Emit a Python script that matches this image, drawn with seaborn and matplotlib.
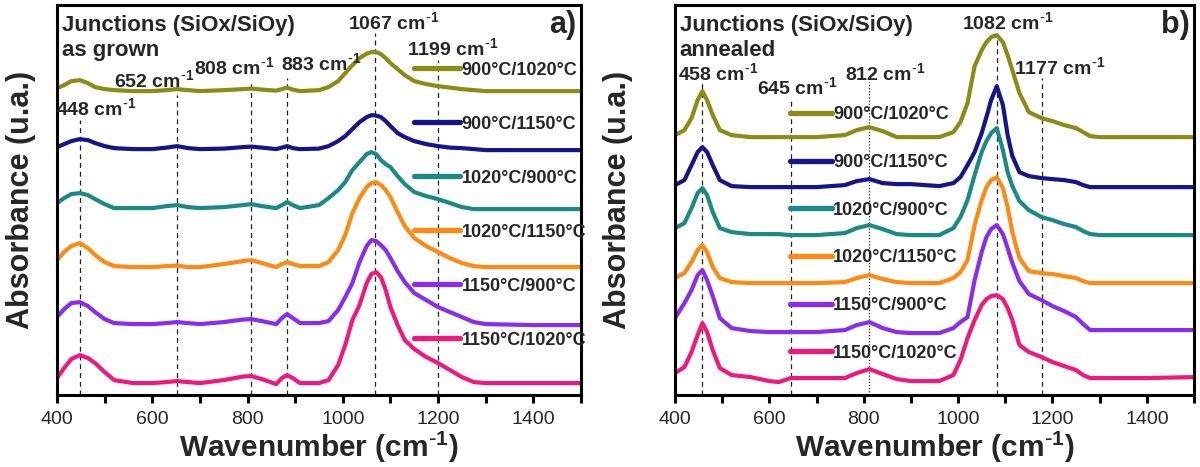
import numpy as np
import pandas as pd
import matplotlib
matplotlib.use('Agg')
import matplotlib.pyplot as plt
from matplotlib.lines import Line2D
import seaborn as sns

# sample labels / colours (same for both panels)
LABELS = ['900°C/1020°C', '900°C/1150°C', '1020°C/900°C',
          '1020°C/1150°C', '1150°C/900°C', '1150°C/1020°C']
COLORS = ['#8C8C14', '#14148C', '#1A8A86', '#FF8A12', '#8A2BF0', '#F0187E']

# a) as grown -- stacked absorbance (a.u.)
WN_A = [400, 415, 430, 448, 465, 480, 500, 520, 560, 600, 630, 652, 675, 700, 750,
        790, 808, 830, 860, 872, 883, 895, 910, 950, 970, 990, 1005, 1020, 1035, 1050,
        1060, 1070, 1080, 1090, 1100, 1115, 1130, 1150, 1175, 1200, 1225, 1250, 1275,
        1300, 1400, 1500]
A_900_1020 = [307, 310, 314, 315, 312, 308, 306, 305, 304, 304, 305, 306, 305, 304, 305,
              306, 306.5, 305.5, 304.5, 306, 307.5, 305.5, 304, 305, 308, 314, 322, 330, 337, 341.5,
              343, 343, 341, 337, 332, 326, 320, 314, 311, 309, 307.5, 306, 305,
              304, 304, 304]
A_900_1150 = [248, 251, 254, 256, 255, 252, 249, 247, 246, 246, 247.5, 249, 247, 246, 246.5,
              248, 248.5, 247.5, 246, 247.5, 249, 247, 246, 246.5, 249, 254, 259, 266, 273, 278,
              280, 279.5, 278, 274, 269, 262, 258, 254, 251, 249, 247.5, 247, 246,
              245, 245, 245]
A_1020_900 = [192, 197, 201, 202, 200, 196, 191, 187, 187, 187, 189, 190, 188, 187, 188,
              190, 191, 189, 187, 190, 193, 190, 187, 190, 197, 205, 213, 225, 233, 241,
              243, 241, 235, 231, 228, 219, 211, 203, 199, 196, 192, 188, 186,
              186, 186, 186]
A_1020_1150 = [135, 143, 149, 152, 147, 140, 133, 129, 128, 128, 129, 129.5, 128, 128, 131,
               134, 135, 132, 128, 131, 133, 131, 129, 129, 133, 145, 160, 182, 197, 208,
               212, 213, 210, 205, 198, 183, 169, 157, 149, 143, 137, 132, 129,
               128, 128, 128]
A_1150_900 = [78, 86, 92, 93, 89, 83, 76, 72, 71, 71, 72, 73, 72, 71, 73,
              75.5, 76, 74, 71, 77, 81, 77, 72, 72, 74, 85, 98, 112, 133, 149,
              155, 154, 150, 145, 137, 124, 113, 102, 95, 88, 83, 78, 73,
              71, 70, 70]
A_1150_1020 = [17, 27, 36, 40, 37, 32, 23, 15, 12, 12, 13, 14, 13, 12, 15,
               18.5, 19, 16, 11, 17, 20, 17, 12, 12, 15, 30, 50, 75, 90, 112,
               121, 123, 118, 105, 88, 70, 55, 46, 38, 32, 25, 18, 13,
               12, 12, 12]

# b) annealed
WN_B = [400, 420, 435, 448, 458, 468, 480, 495, 520, 560, 600, 620, 645, 700, 760,
        785, 812, 840, 870, 900, 960, 990, 1005, 1020, 1035, 1050, 1060, 1070, 1082, 1095,
        1105, 1115, 1130, 1150, 1177, 1200, 1225, 1250, 1265, 1280, 1300, 1400, 1500]
B_900_1020 = [260, 265, 277, 295, 304, 295, 280, 265, 260, 258, 258, 258, 258, 258, 260,
              265, 268, 264, 258, 258, 258, 263, 273, 292, 329, 345, 353, 358, 360, 353,
              340, 325, 302, 283, 277, 274, 270, 267, 263, 259, 258, 258, 258]
B_900_1150 = [210, 215, 230, 243, 248, 243, 230, 215, 209, 208, 208, 208, 208, 208, 210,
              214, 216, 212, 211, 211, 209, 212, 218, 230, 243, 262, 278, 295, 309, 290,
              260, 239, 223, 219, 217, 216, 215, 213, 210, 208, 208, 208, 208]
B_1020_900 = [167, 172, 187, 202, 207, 200, 183, 167, 163, 161, 161, 161, 160, 160, 162,
              167, 170, 166, 161, 160, 160, 167, 178, 195, 220, 243, 254, 262, 267, 245,
              223, 209, 194, 185, 178, 175, 171, 168, 164, 161, 160, 160, 160]
B_1020_1150 = [117, 122, 133, 145, 150, 143, 128, 117, 113, 112, 112, 112, 112, 112, 113,
               117, 120, 116, 113, 112, 112, 117, 123, 135, 170, 195, 208, 215, 218, 207,
               188, 163, 137, 124, 122, 121, 119, 117, 114, 112, 112, 112, 112]
B_1150_900 = [77, 92, 105, 120, 125, 115, 99, 77, 67, 64, 63, 63, 63, 63, 65,
              70, 73, 67, 63, 62, 62, 67, 73, 78, 115, 143, 158, 166, 170, 161,
              147, 132, 114, 101, 95, 89, 84, 78, 71, 65, 65, 65, 65]
B_1150_1020 = [22, 28, 43, 60, 72, 63, 45, 27, 20, 18, 14, 13, 17, 17, 17,
               22, 26, 21, 16, 14, 14, 20, 35, 57, 75, 90, 96, 99, 100, 96,
               87, 75, 50, 43, 38, 33, 29, 25, 20, 17, 17, 17, 18]

# peak markers: position, where the dashed line starts, label position
PEAKS_A = [448, 652, 808, 883, 1067, 1199]
PEAK_TOP_A = [275, 300, 313, 317, 362, 335]
PEAK_LABEL_XY_A = [(482, 287), (605, 315), (772, 328), (955, 332), (1106, 373), (1230, 347)]
PEAKS_B = [458, 645, 812, 1082, 1177]
PEAK_TOP_B = [313, 297, 313, 362, 317]
PEAK_LABEL_XY_B = [(491, 322), (660, 308), (845, 322), (1106, 373), (1215, 328)]

sns.set_style('white')
plt.rcParams['font.family'] = ['Liberation Sans', 'DejaVu Sans']
plt.rcParams['mathtext.default'] = 'regular'

CM = r' cm$^{\text{-}1}$'


def make_df(wn, series):
    rows = []
    for lab, vals in zip(LABELS, series):
        rows.append(pd.DataFrame({'wn': wn, 'abs': vals, 'sample': lab}))
    return pd.concat(rows, ignore_index=True)


df_a = make_df(WN_A, [A_900_1020, A_900_1150, A_1020_900, A_1020_1150, A_1150_900, A_1150_1020])
df_b = make_df(WN_B, [B_900_1020, B_900_1150, B_1020_900, B_1020_1150, B_1150_900, B_1150_1020])

fig = plt.figure(figsize=(12, 4.67), dpi=100)
ax_a = fig.add_axes([0.0475, 0.154, 0.4367, 0.835])
ax_b = fig.add_axes([0.5625, 0.154, 0.4325, 0.835])


def style_panel(ax, pad):
    ax.set_xlim(400, 1500)
    ax.set_ylim(0, 390)
    ax.set_xticks([400, 600, 800, 1000, 1200, 1400])
    ax.set_xticks([500, 700, 900, 1100, 1300, 1500], minor=True)
    ax.set_yticks([])
    ax.tick_params(axis='x', which='both', direction='out', length=5.5, width=2.2,
                   labelsize=14, pad=6, bottom=True, top=False, color='black')
    for sp in ax.spines.values():
        sp.set_linewidth(2.2)
        sp.set_color('black')
    ax.set_xlabel('Wavenumber (cm$^{\\text{-}1}$)', fontsize=21.5,
                  fontweight='bold', labelpad=1)
    ax.set_ylabel('Absorbance (u.a.)', fontsize=22, fontweight='bold', labelpad=pad)


panels = [
    (ax_a, df_a, PEAKS_A, PEAK_TOP_A, PEAK_LABEL_XY_A, 'as grown', 'a)', 15, (0.681, 0.855), 2.05, 2.55),
    (ax_b, df_b, PEAKS_B, PEAK_TOP_B, PEAK_LABEL_XY_B, 'annealed', 'b)', 30, (0.2216, 0.741), 1.7, 2.3),
]

for ax, df, peaks, tops, label_xy, state, tag, pad, leg_anchor, spacing, hlen in panels:
    for p, t in zip(peaks, tops):
        ls = (0, (1, 1.5)) if (tag == 'b)' and p == 812) else (0, (4, 3))
        ax.vlines(p, 0, t, colors='#222222', linestyles=[ls], linewidth=0.9, zorder=1)
    sns.lineplot(data=df, x='wn', y='abs', hue='sample', hue_order=LABELS,
                 palette=COLORS, sort=False, estimator=None, linewidth=3,
                 legend=False, ax=ax, zorder=2)
    for p, (lx, ly) in zip(peaks, label_xy):
        ax.text(lx, ly, f'{p}' + CM, fontsize=14, fontweight='bold',
                ha='center', va='center')
    ax.text(410, 370, 'Junctions (SiOx/SiOy)', fontsize=16, fontweight='bold',
            ha='left', va='center')
    ax.text(410, 345, state, fontsize=16, fontweight='bold', ha='left', va='center')
    ax.text(1490, 370, tag, fontsize=22, fontweight='bold', ha='right', va='center')

    handles = [Line2D([], [], color=c, lw=3.8, solid_capstyle='round') for c in COLORS]
    ax.legend(handles, LABELS, loc='upper left', bbox_to_anchor=leg_anchor,
              frameon=False, borderpad=0, borderaxespad=0, handlelength=hlen,
              handletextpad=0.1, labelspacing=spacing,
              prop={'size': 13, 'weight': 'bold'})
    style_panel(ax, pad)

fig.savefig('out.png', dpi=100)
